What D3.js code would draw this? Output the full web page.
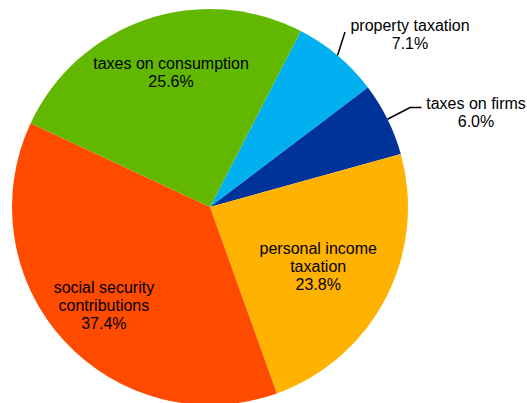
<!DOCTYPE html>
<html>
<head>
<meta charset="utf-8">
<script src="https://cdn.jsdelivr.net/npm/d3@7"></script>
<style>
  html, body { margin: 0; padding: 0; background: #fff; }
  svg { display: block; }
  text { font-family: "Liberation Sans", Arial, sans-serif; font-size: 16px; fill: #000; }
</style>
</head>
<body>
<svg id="chart" width="527" height="403"></svg>
<script>
// Tax revenue composition (%), clockwise from the property slice
const categories = ["property taxation", "taxes on firms", "personal income taxation", "social security contributions", "taxes on consumption"];
const shares = [7.1, 6.0, 23.8, 37.4, 25.6];
const labelLines = [
  ["property taxation"],
  ["taxes on firms"],
  ["personal income", "taxation"],
  ["social security", "contributions"],
  ["taxes on consumption"]
];

// Presentation settings
const colors = ["#00b0f0", "#003399", "#ffb300", "#ff4b00", "#62b800"];
const cx = 210, cy = 207, radius = 198;
const startDeg = 27.3;
const lineHeight = 18;
// inside labels: distance from centre (fraction of radius) and angular nudge (degrees)
const insideLabel = [null, null, { r: 0.623, da: 1.3 }, { r: 0.732, da: -0.6 }, { r: 0.709, da: 2.7 }];
// outside labels: text anchor point and leader path, relative to centre
const outsideLabel = [
  { text: [200, -176], leader: [[135, -175]] },
  { text: [266, -98], leader: [[200, -99.5], [211.5, -99.5]] }
];

const svg = d3.select("#chart");
const g = svg.append("g").attr("transform", `translate(${cx},${cy})`);

const toRad = d => d * Math.PI / 180;
const pie = d3.pie().sort(null).value(d => d)
  .startAngle(toRad(startDeg)).endAngle(toRad(startDeg) + 2 * Math.PI);
const arcs = pie(shares);
const arc = d3.arc().innerRadius(0).outerRadius(radius);

g.selectAll("path.slice")
  .data(arcs)
  .join("path")
  .attr("class", "slice")
  .attr("d", arc)
  .attr("fill", (d, i) => colors[i]);

const fmt = v => v.toFixed(1) + "%";

arcs.forEach((d, i) => {
  const lines = labelLines[i].concat([fmt(shares[i])]);
  const mid = (d.startAngle + d.endAngle) / 2;
  if (insideLabel[i]) {
    const r = insideLabel[i].r * radius;
    const a = mid + toRad(insideLabel[i].da);
    const x = r * Math.sin(a), y = -r * Math.cos(a);
    const t = g.append("text").attr("text-anchor", "middle");
    const top = y - (lines.length - 1) * lineHeight / 2 + 5.5;
    lines.forEach((s, k) => t.append("tspan").attr("x", x).attr("y", top + k * lineHeight).text(s));
  } else {
    const o = outsideLabel[i];
    const ex = radius * Math.sin(mid), ey = -radius * Math.cos(mid);
    g.append("polyline")
      .attr("points", [[ex, ey]].concat(o.leader).map(p => p.join(",")).join(" "))
      .attr("fill", "none").attr("stroke", "#000").attr("stroke-width", 1.5);
    const t = g.append("text").attr("text-anchor", "middle");
    lines.forEach((s, k) => t.append("tspan").attr("x", o.text[0]).attr("y", o.text[1] + k * lineHeight).text(s));
  }
});
</script>
</body>
</html>
